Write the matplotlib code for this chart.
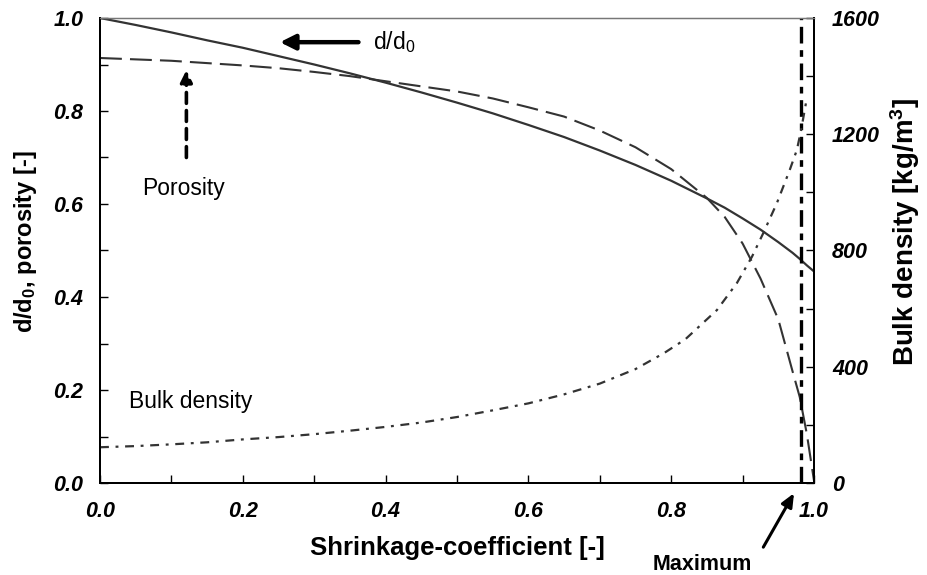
import matplotlib
matplotlib.use("Agg")
import matplotlib.pyplot as plt
from matplotlib.ticker import MultipleLocator, FormatStrFormatter

plt.rcParams['font.family'] = ['Liberation Sans', 'DejaVu Sans']
plt.rcParams['mathtext.fontset'] = 'custom'
plt.rcParams['mathtext.rm'] = 'Liberation Sans'
plt.rcParams['mathtext.it'] = 'Liberation Sans:italic'
plt.rcParams['mathtext.bf'] = 'Liberation Sans:bold'
plt.rcParams['mathtext.default'] = 'regular'

# Shrinkage coefficient grid
shrinkage = [0.0, 0.05, 0.10, 0.15, 0.20, 0.25, 0.30, 0.35, 0.40, 0.45, 0.50,
             0.55, 0.60, 0.65, 0.70, 0.75, 0.80, 0.85, 0.875, 0.90, 0.925,
             0.95, 0.97, 0.98, 0.99, 1.00]

# Relative diameter d/d0
diameter_ratio = [1.000, 0.985, 0.969, 0.952, 0.936, 0.918, 0.900, 0.881,
                  0.861, 0.840, 0.818, 0.795, 0.770, 0.744, 0.715, 0.684,
                  0.650, 0.612, 0.592, 0.569, 0.545, 0.518, 0.495, 0.482,
                  0.468, 0.455]

# Porosity
porosity = [0.914, 0.911, 0.908, 0.903, 0.898, 0.892, 0.884, 0.875, 0.864,
            0.853, 0.842, 0.827, 0.808, 0.788, 0.758, 0.722, 0.675, 0.613,
            0.572, 0.515, 0.440, 0.352, 0.240, 0.185, 0.105, 0.005]

# Bulk density [kg/m3] (right axis), ends just before full shrinkage
bulk_shrinkage = [0.0, 0.05, 0.10, 0.15, 0.20, 0.25, 0.30, 0.35, 0.40, 0.45,
                  0.50, 0.55, 0.60, 0.65, 0.70, 0.75, 0.79, 0.82, 0.864,
                  0.892, 0.913, 0.929, 0.948, 0.966, 0.976, 0.982, 0.99]
bulk_density = [123, 127, 133, 140, 150, 158, 168, 180, 193, 208, 227, 250,
                274, 305, 342, 392, 447, 495, 595, 688, 778, 860, 963, 1077,
                1146, 1215, 1325]

# Position of the maximum shrinkage marker
max_shrinkage = 0.982

curve_color = '#333333'

fig = plt.figure(figsize=(9.27, 5.75), dpi=100)
ax = fig.add_axes([100 / 927, 1 - 483 / 575, 714 / 927, 465 / 575])
ax2 = ax.twinx()

ax.plot(shrinkage, diameter_ratio, color=curve_color, lw=1.6,
        solid_capstyle='butt')
ax.plot(shrinkage, porosity, color=curve_color, lw=1.5,
        linestyle=(0, (10.5, 3.9)))
ax2.plot(bulk_shrinkage, bulk_density, color=curve_color, lw=1.6,
         linestyle=(0, (4.0, 3.0, 1.3, 3.0)))
ax.axvline(max_shrinkage, color='black', lw=2.4,
           linestyle=(0, (5, 2, 2, 2)))

ax.set_xlim(0, 1.0)
ax.set_ylim(0, 1.0)
ax2.set_ylim(0, 1600)

ax.xaxis.set_major_locator(MultipleLocator(0.2))
ax.xaxis.set_minor_locator(MultipleLocator(0.1))
ax.yaxis.set_major_locator(MultipleLocator(0.2))
ax.yaxis.set_minor_locator(MultipleLocator(0.1))
ax2.yaxis.set_major_locator(MultipleLocator(400))
ax2.yaxis.set_minor_locator(MultipleLocator(200))
ax.xaxis.set_major_formatter(FormatStrFormatter('%.1f'))
ax.yaxis.set_major_formatter(FormatStrFormatter('%.1f'))

tick_font = dict(fontsize=15.5, fontweight='bold', fontstyle='italic')
for a in (ax, ax2):
    a.tick_params(which='both', direction='in', length=6, width=1.0,
                  color='black')
    for lab in a.get_yticklabels():
        lab.set(**tick_font)
for lab in ax.get_xticklabels():
    lab.set(**tick_font)
ax.tick_params(axis='x', pad=13)
ax.tick_params(axis='y', pad=12)
ax2.tick_params(axis='y', pad=13)

for a in (ax, ax2):
    for side in ('left', 'bottom', 'right'):
        a.spines[side].set_color('black')
        a.spines[side].set_linewidth(1.4)
    a.spines['top'].set_color('#777777')
    a.spines['top'].set_linewidth(0.9)

ax.set_xlabel('Shrinkage-coefficient [-]', labelpad=10, fontsize=18.5,
              fontweight='bold')
ax.set_ylabel('d/d$_0$, porosity [-]', labelpad=10, fontsize=17,
              fontweight='bold')
ax2.set_ylabel('Bulk density [kg/m$^3$]', labelpad=6, fontsize=20,
               fontweight='bold')
ax.yaxis.label.set_y(0.52)
ax2.yaxis.label.set_y(0.54)

note_font = dict(fontsize=16.5)
# d/d0 pointer
ax.annotate('', xy=(0.252, 0.948), xytext=(0.362, 0.948),
            arrowprops=dict(arrowstyle='-|>,head_length=0.9,head_width=0.45',
                            color='black', lw=3.2, shrinkA=0, shrinkB=0))
ax.text(0.382, 0.948, 'd/d$_0$', ha='left', va='center', **note_font)

# Porosity pointer (dashed shaft)
ax.annotate('', xy=(0.121, 0.888), xytext=(0.121, 0.70),
            arrowprops=dict(arrowstyle='-|>,head_length=0.7,head_width=0.35',
                            color='black', lw=2.6, linestyle=(0, (3, 2)),
                            shrinkA=0, shrinkB=0))
ax.text(0.117, 0.634, 'Porosity', ha='center', va='center', **note_font)

ax.text(0.04, 0.175, 'Bulk density', ha='left', va='center', **note_font)

# Maximum pointer below the axes
ax.annotate('', xy=(max_shrinkage - 0.01, -0.022), xytext=(0.929, -0.138),
            xycoords='data', textcoords='data', annotation_clip=False,
            arrowprops=dict(arrowstyle='-|>,head_length=0.8,head_width=0.35',
                            color='black', lw=2.2, shrinkA=0, shrinkB=0))
ax.text(0.844, -0.1755, 'Maximum', ha='center', va='center',
        fontsize=15.5, fontweight='bold', clip_on=False)

fig.savefig('out.png', dpi=100)
